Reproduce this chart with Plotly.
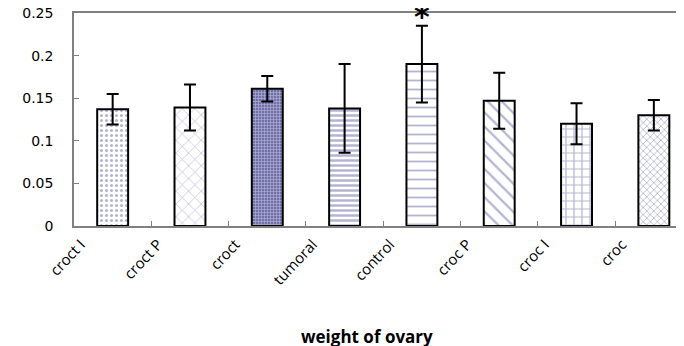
import plotly.graph_objects as go

categories = ["croct I", "croct P", "croct", "tumoral", "control", "croc P", "croc I", "croc"]
means = [0.137, 0.139, 0.161, 0.138, 0.190, 0.147, 0.120, 0.130]
errors = [0.018, 0.027, 0.015, 0.052, 0.045, 0.033, 0.024, 0.018]
y_ticks = [0, 0.05, 0.1, 0.15, 0.2, 0.25]
y_tick_labels = ["0", "0.05", "0.1", "0.15", "0.2", "0.25"]
significant = ["control"]

pc = "#6a6aa6"
patterns = [
    dict(shape=".", fgcolor=pc, bgcolor="white", size=5, solidity=0.3),
    dict(shape="x", fgcolor=pc, bgcolor="white", size=9, solidity=0.14),
    dict(shape="+", fgcolor="#ffffff", bgcolor="#7070aa", size=3, solidity=0.35),
    dict(shape="-", fgcolor=pc, bgcolor="white", size=5, solidity=0.5),
    dict(shape="-", fgcolor=pc, bgcolor="white", size=9, solidity=0.2),
    dict(shape="\\", fgcolor=pc, bgcolor="white", size=10, solidity=0.22),
    dict(shape="+", fgcolor=pc, bgcolor="white", size=8, solidity=0.28),
    dict(shape="x", fgcolor=pc, bgcolor="white", size=5, solidity=0.3),
]

fig = go.Figure()
for i, c in enumerate(categories):
    fig.add_trace(go.Bar(
        x=[c], y=[means[i]],
        width=0.4,
        marker=dict(color="white", line=dict(color="black", width=2),
                    pattern=dict(fillmode="overlay", **patterns[i])),
        error_y=dict(type="data", array=[errors[i]], color="black", thickness=2, width=6),
        showlegend=False,
    ))

for c in significant:
    idx = categories.index(c)
    fig.add_annotation(x=c, y=means[idx] + errors[idx], text="<b>*</b>", showarrow=False,
                       yanchor="bottom", yshift=-10, font=dict(size=30, color="black", family="DejaVu Sans"))

fig.add_annotation(x=0.48, y=-0.52, xref="paper", yref="paper", text="<b>weight of ovary</b>",
                   showarrow=False, xanchor="center", yanchor="middle",
                   font=dict(size=17, color="black", family="Open Sans"))

fig.update_layout(
    width=676, height=338,
    margin=dict(l=66, r=0, t=5, b=120, autoexpand=False),
    plot_bgcolor="white", paper_bgcolor="white",
    barmode="overlay",
    xaxis=dict(type="category", categoryorder="array", categoryarray=categories,
               range=[-0.5, 7.39], showline=True, linecolor="#808080", linewidth=1.5, mirror=True,
               ticks="inside", ticklen=5, tickcolor="#808080", tickson="boundaries",
               tickangle=-47, ticklabelshift=-32, ticklabelstandoff=2, automargin=False,
               tickfont=dict(family="Open Sans", size=15, color="black"), showgrid=False),
    yaxis=dict(range=[0, 0.25], tickvals=y_ticks, ticktext=y_tick_labels, ticklabeloverflow="allow",
               showline=True, linecolor="#808080", linewidth=1.5, automargin=False,
               ticks="inside", ticklen=5, tickcolor="#808080", showgrid=False, zeroline=False,
               tickfont=dict(family="DejaVu Sans", size=14, color="black"), ticklabelstandoff=16),
)

fig.write_html("out.html")
